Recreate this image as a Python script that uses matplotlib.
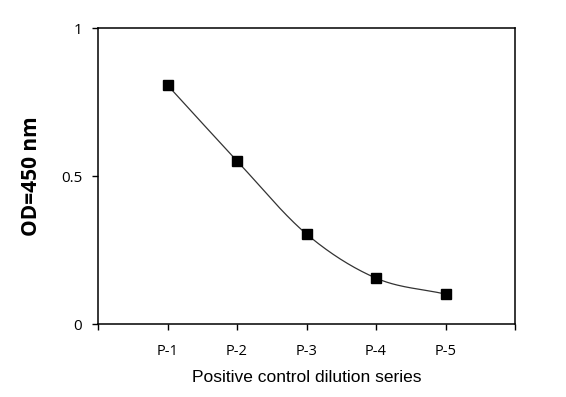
import numpy as np
import matplotlib
matplotlib.use("Agg")
import matplotlib.pyplot as plt

categories = ["P-1", "P-2", "P-3", "P-4", "P-5"]
od_values = [0.807, 0.551, 0.304, 0.155, 0.101]
y_ticks = [0, 0.5, 1]
y_tick_labels = ["0", "0.5", "1"]

def catmull_rom(xs, ys, n=40):
    xs = np.asarray(xs, float); ys = np.asarray(ys, float)
    px = np.concatenate([[2*xs[0]-xs[1]], xs, [2*xs[-1]-xs[-2]]])
    py = np.concatenate([[2*ys[0]-ys[1]], ys, [2*ys[-1]-ys[-2]]])
    ox, oy = [], []
    for i in range(1, len(px)-2):
        t = np.linspace(0, 1, n)
        for p, out in ((px, ox), (py, oy)):
            p0, p1, p2, p3 = p[i-1], p[i], p[i+1], p[i+2]
            out.extend(0.5*((2*p1) + (-p0+p2)*t + (2*p0-5*p1+4*p2-p3)*t**2 + (-p0+3*p1-3*p2+p3)*t**3))
    return np.array(ox), np.array(oy)

fig = plt.figure(figsize=(5.66, 3.97), dpi=100)
ax = fig.add_axes([98/566, 1-324/397, (515-98)/566, (324-28)/397])

x = np.arange(1, len(categories)+1)
sx, sy = catmull_rom(x, od_values)
ax.plot(sx, sy, color="#333333", lw=0.9, zorder=2)
ax.plot(x, od_values, ls="none", marker="s", ms=7, color="black", zorder=3)

ax.set_xlim(0, len(categories)+1)
ax.set_ylim(0, 1)
ax.set_xticks(np.arange(0, len(categories)+2))
ax.set_xticklabels([""] + categories + [""], fontfamily="Open Sans", fontsize=10.5)
ax.set_yticks(y_ticks)
ax.set_yticklabels(y_tick_labels, fontfamily="Open Sans", fontsize=11)
ax.tick_params(axis="both", direction="out", length=4.5, width=1, color="black")
ax.tick_params(axis="x", pad=10)
ax.tick_params(axis="y", pad=7)
for s in ax.spines.values():
    s.set_linewidth(1.1)
ax.set_ylabel("OD=450 nm", fontfamily="Open Sans", fontweight="bold", fontsize=15)
ax.yaxis.set_label_coords((42-98)/417, 0.5)
ax.set_xlabel("Positive control dilution series", fontfamily="Liberation Sans", fontsize=12.5)
ax.xaxis.set_label_coords(0.5, -(370-324)/296)

fig.savefig("out.png", dpi=100)
